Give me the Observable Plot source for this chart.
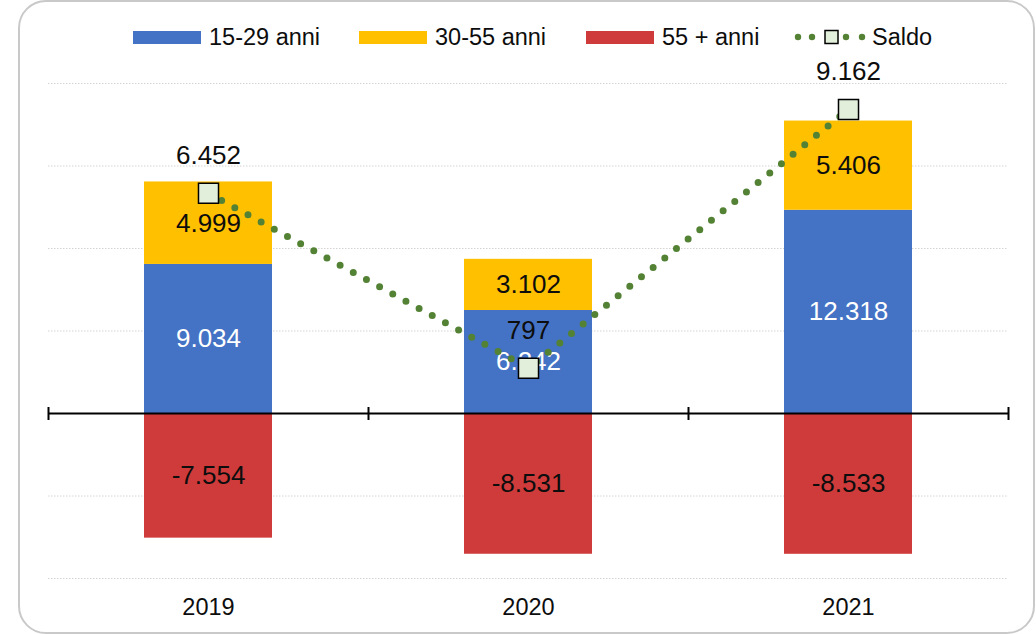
<!DOCTYPE html>
<html><head><meta charset="utf-8">
<script src="https://cdn.jsdelivr.net/npm/d3@7"></script>
<script src="https://cdn.jsdelivr.net/npm/@observablehq/plot@0.6"></script>
<style>
body{margin:0;background:#fff;font-family:"Liberation Sans",Arial,sans-serif;}
#wrap{position:relative;width:1036px;height:634px;overflow:hidden;}
#frame{position:absolute;left:18px;top:0;width:1017px;height:634px;border:2px solid #c9c9c9;border-radius:28px;box-sizing:border-box;}
#chart{position:absolute;left:0;top:0;}
.leg{position:absolute;top:24px;height:26px;display:flex;align-items:center;font-size:23.5px;color:#0d0d0d;white-space:nowrap;}
.sw{width:68px;height:13px;margin-right:8px;}
</style></head><body>
<div id="wrap"><div id="frame"></div><div id="chart"></div><div id="legend"></div></div>
<script>
// ---- data ----
const years = [2019, 2020, 2021];
const groups = ["15-29 anni", "30-55 anni", "55 + anni"];
const young = [9034, 6242, 12318];
const middle = [4999, 3102, 5406];
const older = [-7554, -8531, -8533];
const saldo = [6452, 797, 9162];
const saldoLabel = "Saldo";
const gridTicks = [-10000, -5000, 5000, 10000, 15000, 20000];
const yDomain = [-10000, 20000];
const saldoDomain = [-6000, 10000];
const boundaries = [2018.5, 2019.5, 2020.5, 2021.5];

// ---- styles ----
const colors = ["#4472c4", "#ffc000", "#cf3b3b"];
const labelColors = ["#ffffff", "#0d0d0d", "#0d0d0d"];
const lineColor = "#548235";
const markerFill = "#e2efda";
const barHalf = 0.2;
const font = '"Liberation Sans", Arial, sans-serif';

const series = [young, middle, older];
const rows = years.flatMap((year, i) => groups.map((g, k) => ({year, group: g, k, value: series[k][i]})));
const saldoRows = years.map((year, i) => ({year, saldo: saldo[i]}));

const loc = d3.formatLocale({decimal: ",", thousands: ".", grouping: [3], currency: ["", "€"], minus: "-"});
const fmt = loc.format(",d");
const toPrimary = d3.scaleLinear().domain(saldoDomain).range(yDomain);

const vline = {draw(ctx, size) { const r = Math.sqrt(size / Math.PI); ctx.moveTo(0, -r); ctx.lineTo(0, r); }};

const chart = Plot.plot({
  width: 1036, height: 634,
  marginTop: 83, marginBottom: 56, marginLeft: 48, marginRight: 28,
  style: {fontFamily: font, fontSize: "24px", background: "transparent", color: "#0d0d0d"},
  x: {domain: [boundaries[0], boundaries[boundaries.length - 1]], axis: null},
  y: {domain: yDomain, axis: null},
  color: {type: "identity"},
  marks: [
    Plot.ruleY(gridTicks, {stroke: "#d4d4d4", strokeDasharray: "1.5 1.5", strokeWidth: 1}),
    Plot.rectY(rows, Plot.stackY({
      x: "year", y: "value", z: "group",
      x1: d => d.year - barHalf, x2: d => d.year + barHalf,
      fill: d => colors[d.k]
    })),
    Plot.text(rows, Plot.stackY({
      x: "year", y: "value", z: "group",
      text: d => fmt(d.value), fill: d => labelColors[d.k],
      fontSize: 26
    })),
    Plot.ruleY([0], {stroke: "#000", strokeWidth: 2}),
    Plot.dot(boundaries, {x: d => d, y: 0, symbol: vline, r: 6.5, stroke: "#000", strokeWidth: 2, fill: "none"}),
    Plot.line(saldoRows, {x: "year", y: d => toPrimary(d.saldo), stroke: lineColor, strokeWidth: 7, strokeDasharray: "0 15", strokeLinecap: "round"}),
    Plot.dot(saldoRows, {x: "year", y: d => toPrimary(d.saldo), symbol: "square", r: 11.3, fill: markerFill, stroke: "#000", strokeWidth: 1.5}),
    Plot.text(saldoRows, {x: "year", y: d => toPrimary(d.saldo), text: d => fmt(d.saldo), dy: -38, fill: "#0d0d0d", fontSize: 26}),
    Plot.axisX({ticks: years, tickFormat: d => String(d), tickSize: 0, tickPadding: 20, fontSize: 23.5, anchor: "bottom", label: null})
  ]
});
document.getElementById("chart").appendChild(chart);

// ---- legend ----
const legend = document.getElementById("legend");
const legLefts = [133, 359, 586];
groups.forEach((g, k) => {
  const it = document.createElement("div");
  it.className = "leg";
  it.style.left = legLefts[k] + "px";
  it.innerHTML = `<div class="sw" style="background:${colors[k]}"></div><span>${g}</span>`;
  legend.appendChild(it);
});
const sl = document.createElement("div");
sl.className = "leg";
sl.style.left = "794px";
sl.innerHTML = `<svg width="74" height="26" style="margin-right:4px">
<circle cx="4" cy="13" r="3.2" fill="${lineColor}"/><circle cx="18" cy="13" r="3.2" fill="${lineColor}"/>
<rect x="31" y="6.5" width="13" height="13" fill="${markerFill}" stroke="#000" stroke-width="1.5"/>
<circle cx="52" cy="13" r="3.2" fill="${lineColor}"/><circle cx="68" cy="13" r="3.2" fill="${lineColor}"/></svg><span>${saldoLabel}</span>`;
legend.appendChild(sl);
</script>
</body></html>
